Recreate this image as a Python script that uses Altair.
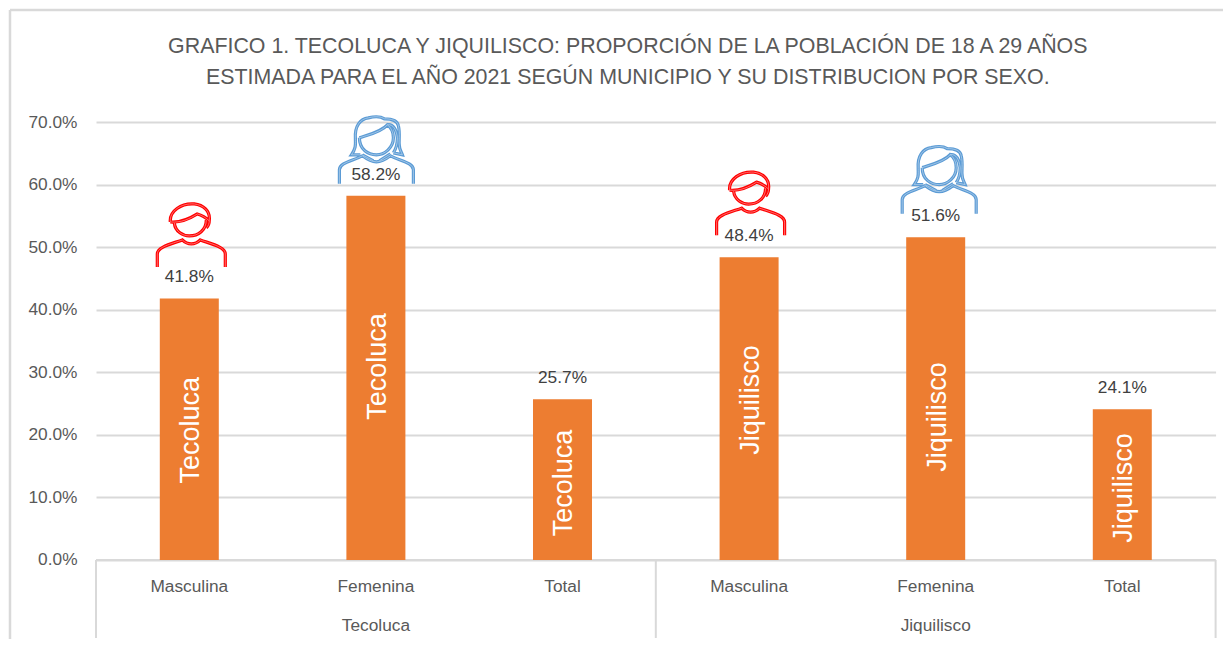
import altair as alt
import pandas as pd

title_lines = ["GRAFICO 1. TECOLUCA Y  JIQUILISCO: PROPORCIÓN DE LA POBLACIÓN DE 18 A 29 AÑOS",
               "ESTIMADA PARA EL AÑO 2021 SEGÚN MUNICIPIO Y SU DISTRIBUCION POR SEXO."]
municipios = ["Tecoluca", "Tecoluca", "Tecoluca", "Jiquilisco", "Jiquilisco", "Jiquilisco"]
categorias = ["Masculina", "Femenina", "Total", "Masculina", "Femenina", "Total"]
valores = [0.418, 0.582, 0.257, 0.484, 0.516, 0.241]
yticks = [0, 0.1, 0.2, 0.3, 0.4, 0.5, 0.6, 0.7]

PLOT_W, PLOT_H = 1119.6, 438
GREY = "#595959"
GRID = "#D9D9D9"
FONT = "Liberation Sans"
LABEL = 17.3

df = pd.DataFrame({"municipio": municipios, "categoria": categorias, "valor": valores})
df["key"] = df["municipio"] + "|" + df["categoria"]
keys = list(df["key"])
df["mid"] = df["valor"] / 2
df["label"] = df["valor"].map(lambda v: f"{v*100:.1f}%")

MAN = ("M-21,-13C-22,-24 -10,-32 3,-31C12,-30 19,-24 18,-15C18,-11 17,-9 15,-7"
       "M-21,-13C-10,-12 -2,-16 6,-21C10,-20 15,-17 18,-14"
       "M-17,-12C-16,-3 -8,1 -2,1C7,1 15,-5 15,-15"
       "M-34,32L-34,19C-34,12 -20,9 -9,5C-6,8 -3,9 0,9C3,9 6,8 9,5C20,9 34,12 34,19L34,32")
WOMAN = ("M-16,5L-25,5C-20,-2 -21,-6 -21,-11C-22,-24 -16,-31 -8,-32C0,-34 5,-33 8,-31"
         "C14,-31 21,-30 22,-24C24,-16 22,-8 23,-4C23,0 25,2 26,5L17,3"
         "M-17,-12C-17,0 -8,5 0,5C8,5 17,-2 17,-12C17,-18 14,-23 11,-25C5,-18 -8,-15 -17,-12"
         "M11,-25C17,-26 20,-20 21,-12C21,-5 19,0 17,3"
         "M-37,34L-37,20C-37,13 -24,11 -14,6C-10,9 -5,12 0,12C5,12 10,9 14,6C24,11 37,13 37,20L37,34"
         "M-14,5L-3,11M14,4L3,11")

x = alt.X("key:N", sort=keys, title=None,
          scale=alt.Scale(paddingInner=0, paddingOuter=0),
          axis=alt.Axis(labelExpr="split(datum.value, '|')[1]", labelAngle=0, labelFont=FONT,
                        labelFontSize=LABEL, labelColor=GREY, labelPadding=27, ticks=False,
                        domain=False, grid=False, labelBaseline="middle", labelAlign="center"))
y = alt.Y("valor:Q", title=None,
          scale=alt.Scale(domain=[0, 0.7], nice=False),
          axis=alt.Axis(values=yticks, format=".1%", labelFont=FONT, labelFontSize=LABEL,
                        labelColor=GREY, labelPadding=19, ticks=False, domain=False,
                        grid=True, gridColor=GRID, gridWidth=2))

enc = dict(x=alt.X("key:N", sort=keys))
bars = alt.Chart(df).mark_bar(size=59, color="#ED7D31").encode(x=x, y=y)
labels = alt.Chart(df).mark_text(font=FONT, fontSize=LABEL, color="#404040", dy=-21, baseline="middle").encode(
    y=alt.Y("valor:Q"), text="label:N", **enc)
groups = alt.Chart(df[df["categoria"] == "Femenina"]).mark_text(font=FONT, fontSize=LABEL, color=GREY, baseline="middle").encode(
    y=alt.value(PLOT_H + 66), text="municipio:N", **enc)

def inner(i, yoff):
    return alt.Chart(df.iloc[[i]]).mark_text(
        font=FONT, fontSize=27, color="#FFFFFF", angle=270, baseline="middle", align="center",
        xOffset=2, yOffset=yoff).encode(y=alt.Y("mid:Q"), text="municipio:N", **enc)

def icon(i, path, colour, xoff, yoff):
    d = df.iloc[[i]]
    e = dict(y=alt.Y("valor:Q"), **enc)
    outer = alt.Chart(d).mark_point(shape=path, size=4, filled=False, stroke=colour, strokeWidth=3.2,
                                    opacity=1, xOffset=xoff, yOffset=yoff).encode(**e)
    core = alt.Chart(d).mark_point(shape=path, size=4, filled=False, stroke="#FFFFFF", strokeWidth=0.7,
                                   opacity=0.6, xOffset=xoff, yOffset=yoff).encode(**e)
    return outer + core

chrome_data = pd.DataFrame({"a": [0]})
def rule(x1, y1, x2, y2, w=2):
    return alt.Chart(chrome_data).mark_rule(color=GRID, strokeWidth=w).encode(
        x=alt.value(x1), x2=alt.value(x2), y=alt.value(y1), y2=alt.value(y2))

layers = [
    rule(-86, -112, PLOT_W + 30, -112, 2.5),
    rule(-86, -112, -86, PLOT_H + 87, 2.5),
    rule(0, PLOT_H, PLOT_W, PLOT_H),
    rule(0, PLOT_H, 0, PLOT_H + 78),
    rule(PLOT_W / 2, PLOT_H, PLOT_W / 2, PLOT_H + 78),
    rule(PLOT_W, PLOT_H, PLOT_W, PLOT_H + 78),
    bars, labels, groups,
    inner(0, 1), inner(1, -11.5), inner(2, 3.5), inner(3, -8.5), inner(4, 18.5), inner(5, 3.5),
    icon(0, MAN, "#FF0000", 2, -63.5),
    icon(1, WOMAN, "#5B9BD5", 0.5, -46),
    icon(3, MAN, "#FF0000", 1.5, -54),
    icon(4, WOMAN, "#5B9BD5", 3.5, -57.5),
]

chart = alt.layer(*layers).properties(
    width=PLOT_W, height=PLOT_H,
    title=alt.TitleParams(text=title_lines, font=FONT, fontSize=21.4, fontWeight="normal", color=GREY,
                          anchor="middle", dx=-28, lineHeight=31, offset=-101, baseline="bottom"),
    padding={"left": 88, "top": 114, "right": 7, "bottom": 79},
    autosize=alt.AutoSizeParams(type="none"),
).configure_view(stroke=None)

chart.save("out.html", embed_options={"renderer": "svg", "actions": False})
